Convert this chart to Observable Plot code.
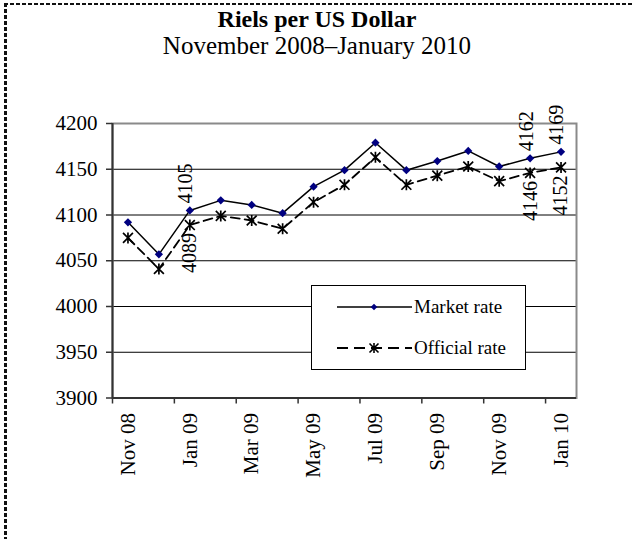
<!DOCTYPE html>
<html>
<head>
<meta charset="utf-8">
<script src="https://cdn.jsdelivr.net/npm/d3@7"></script>
<script src="https://cdn.jsdelivr.net/npm/@observablehq/plot@0.6"></script>
<style>
  body { margin: 0; background: #fff; }
  #page { position: relative; width: 634px; height: 539px; overflow: hidden; font-family: "Liberation Serif", "Times New Roman", serif; color: #000; }
  #bt { position: absolute; left: 4px; top: 3px; width: 640px; height: 2px; background: repeating-linear-gradient(90deg, #111 0 4px, transparent 4px 6px); }
  #bl { position: absolute; left: 4px; top: 3px; width: 3px; height: 560px; background: repeating-linear-gradient(180deg, #111 0 4px, transparent 4px 6px); }
  #title { position: absolute; left: 0; width: 634px; top: 6px; text-align: center; font-weight: bold; font-size: 24px; line-height: 26px; }
  #subtitle { position: absolute; left: 0; width: 634px; top: 33px; text-align: center; font-size: 25px; line-height: 26px; }
  #chart { position: absolute; left: 0; top: 60px; }
  #legend { position: absolute; left: 311px; top: 285px; width: 215px; height: 85px; box-sizing: border-box; border: 1px solid #000; background: #fff; }
  #legend svg { position: absolute; left: -1px; top: -1px; }
</style>
</head>
<body>
<div id="page">
  <div id="bt"></div>
  <div id="bl"></div>
  <div id="title">Riels per US Dollar</div>
  <div id="subtitle">November 2008–January 2010</div>
  <div id="chart"></div>
  <div id="legend"></div>
</div>
<script>
const months = ["Nov 08","Dec 08","Jan 09","Feb 09","Mar 09","Apr 09","May 09","Jun 09","Jul 09","Aug 09","Sep 09","Oct 09","Nov 09","Dec 09","Jan 10"];
const market = [4092,4057,4105,4116,4111,4102,4131,4149,4179,4149,4159,4170,4153,4162,4169];
const official = [4075,4041,4089,4099,4094,4085,4114,4133,4163,4133,4143,4153,4137,4146,4152];
const yTicks = [3900,3950,4000,4050,4100,4150,4200];
const gridValues = [3950,4000,4050,4100,4150];
const xTickLabels = ["Nov 08","Jan 09","Mar 09","May 09","Jul 09","Sep 09","Nov 09","Jan 10"];
const labeledMonths = ["Jan 09","Dec 09","Jan 10"];
const seriesNames = ["Market rate","Official rate"];

const rows = months.map((m, i) => ({i, month: m, market: market[i], official: official[i]}));
const labelIdx = xTickLabels.map(l => months.indexOf(l));
const boundaryIdx = labelIdx.map(i => i - 0.5);
const labeledRows = rows.filter(r => labeledMonths.includes(r.month));

const star = {
  draw(context, size) {
    const r = Math.sqrt(size / Math.PI);
    const a = r * 0.9;
    context.moveTo(0, -r); context.lineTo(0, r);
    context.moveTo(-a, -a); context.lineTo(a, a);
    context.moveTo(-a, a); context.lineTo(a, -a);
  }
};

const font = "Liberation Serif, Times New Roman, serif";

const chart = Plot.plot({
  width: 634,
  height: 479,
  marginTop: 63,
  marginBottom: 141.5,
  marginLeft: 112,
  marginRight: 58,
  style: {fontFamily: font, fontSize: "21px", color: "#000", background: "transparent"},
  x: {domain: [-0.5, months.length - 0.5], axis: null},
  y: {domain: [3900, 4200], axis: null},
  marks: [
    Plot.ruleY(gridValues, {stroke: "#000", strokeWidth: 1}),
    Plot.frame({stroke: "#8a8a8a", strokeWidth: 2}),
    Plot.ruleX([-0.5], {stroke: "#333", strokeWidth: 2}),
    Plot.ruleY([3900], {stroke: "#333", strokeWidth: 2}),
    Plot.axisY({ticks: yTicks, label: null, tickSize: 6, tickPadding: 9, fontSize: 21, stroke: "#333", strokeWidth: 1.5, tickFormat: d => String(d)}),
    Plot.axisX({ticks: boundaryIdx, label: null, tickSize: 6, stroke: "#333", strokeWidth: 1.5, tickFormat: () => ""}),
    Plot.axisX({ticks: labelIdx, label: null, tickSize: 0, tickPadding: 15, tickRotate: -90, fontSize: 21, tickFormat: i => months[i]}),
    Plot.line(rows, {x: "i", y: "official", stroke: "#000", strokeWidth: 1.8, strokeDasharray: "9,5"}),
    Plot.line(rows, {x: "i", y: "market", stroke: "#000", strokeWidth: 1.5}),
    Plot.dot(rows, {x: "i", y: "official", symbol: star, r: 5.5, stroke: "#000", strokeWidth: 1.7, fill: "none"}),
    Plot.dot(rows, {x: "i", y: "market", symbol: "square", rotate: 45, r: 3.3, fill: "#000080", stroke: "none"}),
    Plot.text(labeledRows, {x: "i", y: "market", text: d => String(d.market), rotate: -90, textAnchor: "start", lineAnchor: "middle", dy: -7, dx: -4, fontSize: 20}),
    Plot.text(labeledRows, {x: "i", y: "official", text: d => String(d.official), rotate: -90, textAnchor: "end", lineAnchor: "middle", dy: 8, dx: 0, fontSize: 20})
  ]
});
document.getElementById("chart").appendChild(chart);

// Legend
const lg = d3.select("#legend").append("svg").attr("width", 215).attr("height", 85);
const rowsY = [22, 63];
lg.append("line").attr("x1", 26).attr("x2", 101).attr("y1", rowsY[0]).attr("y2", rowsY[0]).attr("stroke", "#000").attr("stroke-width", 1.5);
lg.append("path").attr("d", d3.symbol(d3.symbolSquare, 22)()).attr("transform", `translate(63,${rowsY[0]}) rotate(45)`).attr("fill", "#000080");
lg.append("text").attr("x", 103).attr("y", rowsY[0]).attr("dy", "0.32em").attr("font-family", font).attr("font-size", 19).text(seriesNames[0]);
lg.append("line").attr("x1", 26).attr("x2", 101).attr("y1", rowsY[1]).attr("y2", rowsY[1]).attr("stroke", "#000").attr("stroke-width", 1.8).attr("stroke-dasharray", "11,6");
lg.append("path").attr("d", d3.symbol(star, Math.PI * 25)()).attr("transform", `translate(63,${rowsY[1]})`).attr("fill", "none").attr("stroke", "#000").attr("stroke-width", 1.6);
lg.append("text").attr("x", 103).attr("y", rowsY[1]).attr("dy", "0.32em").attr("font-family", font).attr("font-size", 19).text(seriesNames[1]);
</script>
</body>
</html>
